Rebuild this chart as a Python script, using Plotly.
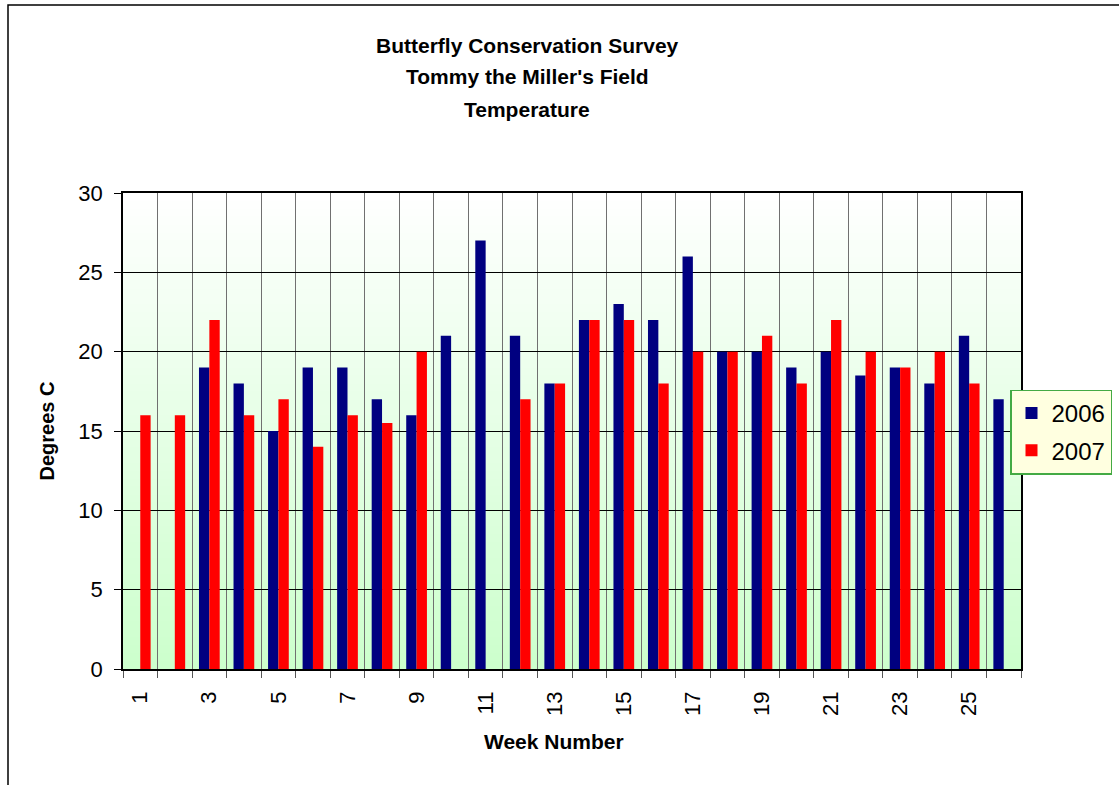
import plotly.graph_objects as go

weeks = list(range(1, 27))
temp_2006 = [None, None, 19, 18, 15, 19, 19, 17, 16, 21, 27, 21, 18, 22, 23, 22, 26, 20, 20, 19, 20, 18.5, 19, 18, 21, 17]
temp_2007 = [16, 16, 22, 16, 17, 14, 16, 15.5, 20, None, None, 17, 18, 22, 22, 18, 20, 20, 21, 18, 22, 20, 19, 20, 18, None]
tick_weeks = list(range(1, 26, 2))
title_lines = ["Butterfly Conservation Survey", "Tommy the Miller's Field", "Temperature"]

W, H = 1119, 785
L, R, T, B = 123, 98, 193, 116
pw, ph = W - L - R, H - T - B

def px_x(x):
    return (x - L) / pw

def px_y(y):
    return (H - B - y) / ph

FONT = "Liberation Sans, Arial, sans-serif"

fig = go.Figure()
fig.add_trace(go.Bar(x=weeks, y=temp_2006, name="2006", legendgroup="a",
                     marker=dict(color="#000080", line=dict(width=0))))
fig.add_trace(go.Bar(x=weeks, y=temp_2007, name="2007", legendgroup="b",
                     marker=dict(color="#FF0000", line=dict(width=0))))

# gradient background (white top -> light green bottom)
shapes = []
n = 60
for i in range(n):
    t = (i + 0.5) / n  # 0 bottom -> 1 top
    g = (204 + (255 - 204) * t)
    col = "rgb(%d,255,%d)" % (round(g), round(g))
    shapes.append(dict(type="rect", xref="paper", yref="paper", x0=0, x1=1,
                       y0=i / n, y1=(i + 1) / n + 0.002, fillcolor=col,
                       line=dict(width=0), layer="below"))
# outer chart border
shapes.append(dict(type="rect", xref="paper", yref="paper",
                   x0=px_x(8), x1=px_x(1180), y0=px_y(850), y1=px_y(5),
                   line=dict(color="black", width=1.5), fillcolor="rgba(0,0,0,0)", layer="below"))

annotations = []
for y_px, txt in zip([45, 77, 110], title_lines):
    annotations.append(dict(text="<b>%s</b>" % txt, xref="paper", yref="paper",
                            x=px_x(527), y=px_y(y_px), xanchor="center", yanchor="middle",
                            showarrow=False, font=dict(family=FONT, size=21, color="black")))
annotations.append(dict(text="<b>Week Number</b>", xref="paper", yref="paper",
                        x=px_x(554), y=px_y(741), xanchor="center", yanchor="middle",
                        showarrow=False, font=dict(family=FONT, size=21, color="black")))

fig.update_layout(
    width=W, height=H,
    margin=dict(l=L, r=R, t=T, b=B, pad=0, autoexpand=False),
    paper_bgcolor="white",
    plot_bgcolor="rgba(0,0,0,0)",
    barmode="group", bargap=0.4, bargroupgap=0,
    shapes=shapes,
    annotations=annotations,
    font=dict(family=FONT, color="black"),
    legend=dict(x=px_x(1010), y=px_y(432), xanchor="left", yanchor="middle",
                bgcolor="#FFFFE0", bordercolor="#44AA44", borderwidth=1.5,
                font=dict(family=FONT, size=24, color="black"),
                itemwidth=30, tracegroupgap=3),
    xaxis=dict(
        range=[0.5, 26.5], tickmode="array", tickvals=tick_weeks,
        ticktext=[str(w) for w in tick_weeks], tickangle=-90,
        tickfont=dict(family=FONT, size=22, color="black"),
        ticks="", showgrid=False, zeroline=False,
        showline=True, linecolor="black", linewidth=1.5, mirror=True,
        ticklabelstandoff=12,
        minor=dict(tick0=0.5, dtick=1, ticks="outside", ticklen=7, tickcolor="#555",
                   showgrid=True, gridcolor="#707070", gridwidth=1),
    ),
    yaxis=dict(
        range=[0, 30], dtick=5, tick0=0,
        tickfont=dict(family=FONT, size=22, color="black"),
        ticks="outside", ticklen=7, tickcolor="black", ticklabelstandoff=7,
        showgrid=True, gridcolor="black", gridwidth=1, zeroline=False,
        showline=True, linecolor="black", linewidth=1.5, mirror=True,
        title=dict(text="<b>Degrees C</b>", font=dict(family=FONT, size=20, color="black"), standoff=18),
    ),
)

fig.write_html("out.html", config={"displayModeBar": False},
               post_script="document.body.style.margin='0';")
